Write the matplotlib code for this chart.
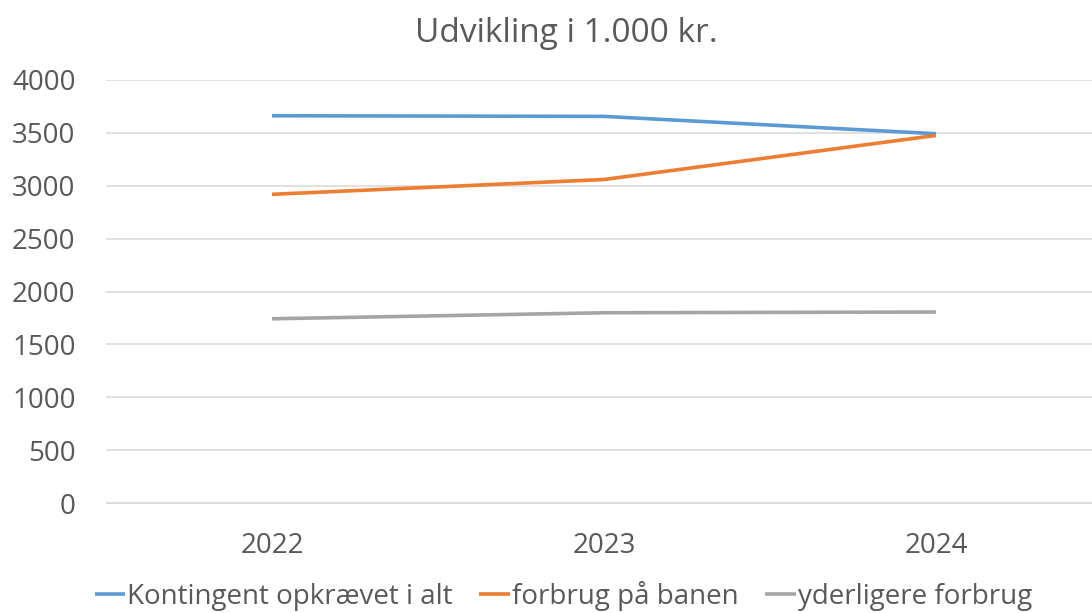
import matplotlib
matplotlib.use("Agg")
import matplotlib.pyplot as plt

years = ["2022", "2023", "2024"]
kontingent = [3662, 3656, 3492]
forbrug_banen = [2919, 3059, 3476]
yderligere = [1742, 1799, 1806]
series_names = ["Kontingent opkrævet i alt", "forbrug på banen", "yderligere forbrug"]
colors = ["#5B9BD5", "#ED7D31", "#A5A5A5"]
title = "Udvikling i 1.000 kr."
yticks = [0, 500, 1000, 1500, 2000, 2500, 3000, 3500, 4000]

plt.rcParams['font.family'] = ['Open Sans', 'DejaVu Sans']
txt = "#595959"

W, H = 1092, 613
fig = plt.figure(figsize=(W / 100, H / 100), dpi=100)
left, right = 106, 1102
top, bottom = 80, 503
ax = fig.add_axes([left / W, (H - bottom) / H, (right - left) / W, (bottom - top) / H])

x = list(range(len(years)))
for vals, name, c in zip([kontingent, forbrug_banen, yderligere], series_names, colors):
    ax.plot(x, vals, color=c, lw=2.6, label=name, solid_capstyle='butt')

ax.set_xlim(-0.5, 2.5)
ax.set_ylim(0, 4000)
ax.set_yticks(yticks)
ax.set_yticklabels([str(v) for v in yticks], fontsize=20, color=txt)
ax.set_xticks(x)
ax.set_xticklabels(years, fontsize=20, color=txt)
ax.grid(axis='y', color='#D9D9D9', lw=1.1)
ax.set_axisbelow(True)
for s in ax.spines.values():
    s.set_visible(False)
ax.spines['bottom'].set_visible(True)
ax.spines['bottom'].set_color('#D9D9D9')
ax.tick_params(axis='both', length=0)
ax.tick_params(axis='y', pad=22)
ax.tick_params(axis='x', pad=21)

fig.text(0.519, 1 - 33 / H, title, ha='center', va='center', fontsize=24, color=txt)

leg = fig.legend(loc='center', bbox_to_anchor=(0.516, 1 - 596 / H), ncol=3, frameon=False,
                 fontsize=20, handlelength=1.1, handletextpad=0.08, columnspacing=0.95,
                 labelcolor=txt)

fig.savefig("out.png", dpi=100)
